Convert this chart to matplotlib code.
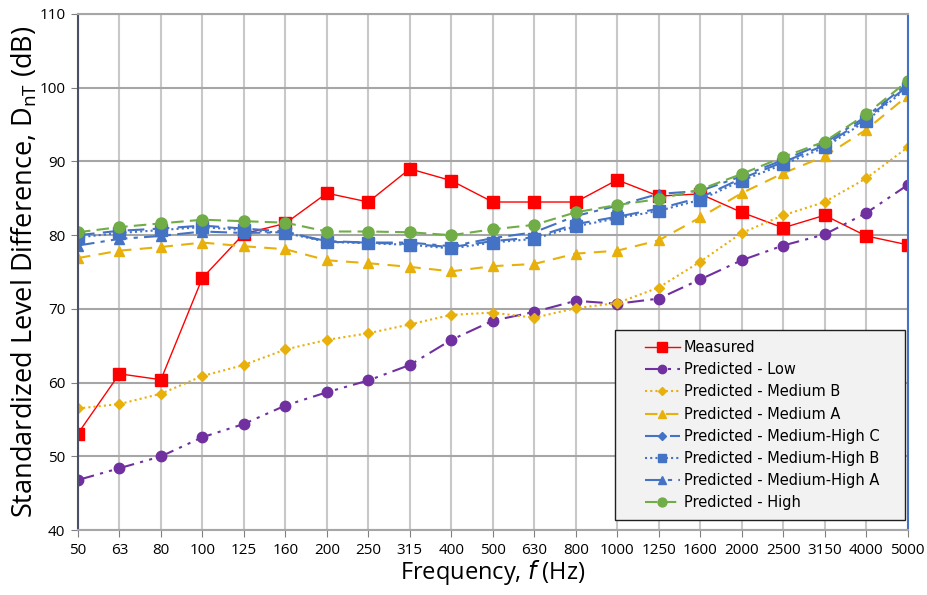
import numpy as np
import matplotlib.pyplot as plt
from matplotlib.patches import Rectangle

freqs = ['50', '63', '80', '100', '125', '160', '200', '250', '315', '400', '500',
         '630', '800', '1000', '1250', '1600', '2000', '2500', '3150', '4000', '5000']

measured = [53.1, 61.2, 60.4, 74.2, 80.2, 81.6, 85.7, 84.5, 89.0, 87.4, 84.5,
            84.5, 84.5, 87.5, 85.3, 85.6, 83.1, 81.0, 82.7, 79.9, 78.7]
pred_low = [46.8, 48.4, 50.0, 52.6, 54.4, 56.9, 58.7, 60.3, 62.4, 65.8, 68.4,
            69.6, 71.1, 70.7, 71.4, 74.0, 76.6, 78.6, 80.1, 83.0, 86.8]
pred_med_b = [56.5, 57.1, 58.5, 60.9, 62.4, 64.5, 65.8, 66.7, 67.9, 69.2, 69.5,
              68.8, 70.1, 70.8, 72.9, 76.4, 80.3, 82.7, 84.5, 87.7, 91.9]
pred_med_a = [76.9, 77.9, 78.4, 79.0, 78.5, 78.1, 76.6, 76.2, 75.7, 75.1, 75.8,
              76.1, 77.5, 77.9, 79.3, 82.4, 85.7, 88.4, 90.7, 94.3, 98.9]
pred_mh_c = [80.0, 80.6, 80.9, 81.3, 80.9, 80.5, 79.1, 79.0, 78.8, 78.4, 79.2,
             79.7, 81.5, 82.5, 83.6, 85.1, 87.7, 89.9, 92.2, 95.8, 100.2]
pred_mh_b = [79.7, 80.3, 80.7, 81.1, 80.7, 80.3, 79.1, 78.9, 78.7, 78.2, 79.0,
             79.5, 81.2, 82.3, 83.3, 84.8, 87.4, 89.6, 91.9, 95.5, 100.0]
pred_mh_a = [78.6, 79.5, 79.9, 80.5, 80.3, 80.4, 79.2, 79.0, 79.0, 78.5, 79.6,
             80.4, 82.6, 84.0, 85.6, 86.0, 88.0, 90.2, 92.5, 96.1, 100.5]
pred_high = [80.4, 81.1, 81.6, 82.1, 81.9, 81.7, 80.5, 80.5, 80.4, 80.0, 80.8,
             81.4, 83.1, 84.1, 84.9, 86.2, 88.3, 90.6, 92.7, 96.4, 100.9]

yticks = [40, 50, 60, 70, 80, 90, 100, 110]

red = '#FF0000'
purple = '#7030A0'
gold = '#E8B00A'
blue = '#4472C4'
green = '#70AD47'

x = np.arange(len(freqs))

fig = plt.figure(figsize=(9.28, 5.95), dpi=100)
ax = fig.add_axes([0.084, 0.109, 0.894, 0.8675])

ax.plot(x, measured, color=red, lw=1.0, marker='s', ms=9, label='Measured')
ax.plot(x, pred_low, color=purple, lw=1.5, ls=(0, (8, 3, 1.5, 3, 1.5, 3)),
        marker='o', ms=7.5, label='Predicted - Low')
ax.plot(x, pred_med_b, color=gold, lw=1.5, ls=(0, (1, 1.5)),
        marker='D', ms=5.5, label='Predicted - Medium B')
ax.plot(x, pred_med_a, color=gold, lw=1.5, ls=(0, (6, 4)),
        marker='^', ms=7.5, label='Predicted - Medium A')
ax.plot(x, pred_mh_c, color=blue, lw=1.5, ls=(0, (8, 4)),
        marker='D', ms=5.5, label='Predicted - Medium-High C')
ax.plot(x, pred_mh_b, color=blue, lw=1.5, ls=(0, (1, 1.5)),
        marker='s', ms=8, label='Predicted - Medium-High B')
ax.plot(x, pred_mh_a, color=blue, lw=1.5, ls=(0, (8, 3, 2, 3)),
        marker='^', ms=7.5, label='Predicted - Medium-High A')
ax.plot(x, pred_high, color=green, lw=1.5, ls=(0, (6, 3)),
        marker='o', ms=8, label='Predicted - High')

ax.set_xlim(0, len(freqs) - 1)
ax.set_ylim(40, 110)
ax.set_xticks(x)
ax.set_xticklabels(freqs, fontsize=11, family='Open Sans')
ax.set_yticks(yticks)
ax.set_yticklabels([str(v) for v in yticks], fontsize=11, family='Open Sans')
ax.tick_params(axis='both', length=5, color='#808080', pad=4)

ax.grid(axis='x', color='#C8C8C8', lw=1.5)
ax.grid(axis='y', color='#A6A6A6', lw=1.5)
ax.set_axisbelow(True)

ax.spines['left'].set_color('#4A5068')
ax.spines['left'].set_linewidth(1.5)
ax.spines['right'].set_color(blue)
ax.spines['right'].set_linewidth(1.5)
ax.spines['top'].set_color('#A6A6A6')
ax.spines['top'].set_linewidth(1.5)
ax.spines['bottom'].set_color('#A6A6A6')
ax.spines['bottom'].set_linewidth(1.5)

ax.set_xlabel('Frequency, $\\it{f}$ (Hz)', fontsize=17, family='Open Sans', labelpad=0)
ax.set_ylabel('Standardized Level Difference, D$_{\\mathregular{nT}}$ (dB)',
              fontsize=19.5, family='Open Sans', labelpad=0)

# legend box (fixed size, like the spreadsheet legend)
ax.add_patch(Rectangle((0.647, 0.0194), 0.3494, 0.3682, transform=ax.transAxes,
                       facecolor='#F2F2F2', edgecolor='#202020', lw=1.0, zorder=4))
leg = ax.legend(loc='upper left', bbox_to_anchor=(0.683, 0.368), fontsize=10.5,
                frameon=False, handlelength=2.4, markerscale=0.8,
                borderpad=0, borderaxespad=0, labelspacing=0.49, handletextpad=0.3)
leg.set_zorder(5)

fig.savefig('out.png', dpi=100)
